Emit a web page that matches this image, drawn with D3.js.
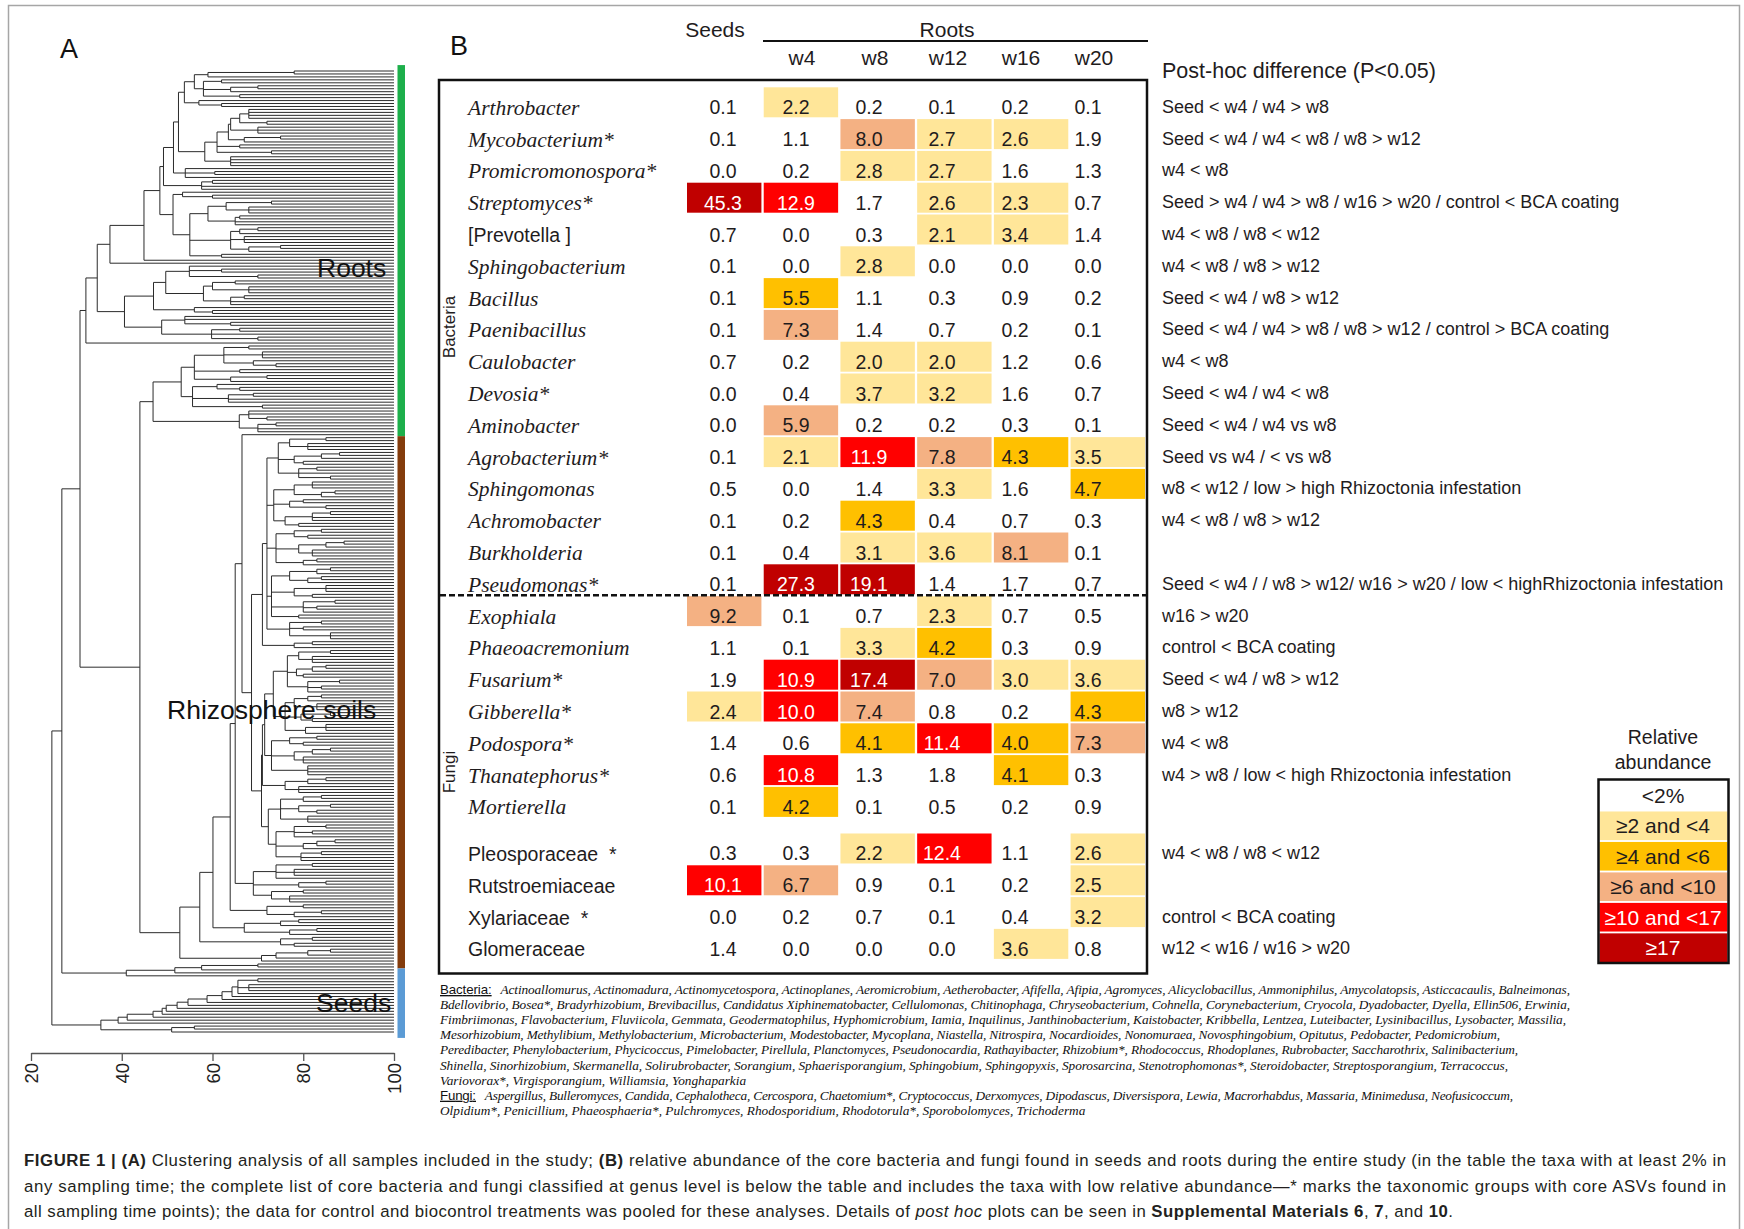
<!DOCTYPE html>
<html>
<head>
<meta charset="utf-8">
<script src="https://cdn.jsdelivr.net/npm/d3@7/dist/d3.min.js"></script>
<style>
html,body{margin:0;padding:0;background:#fff;}
svg{display:block;}
</style>
</head>
<body>
<svg id="fig" width="1744" height="1229" xmlns="http://www.w3.org/2000/svg"></svg>
<script>
// ======================= DATA =======================
const taxa = ["Arthrobacter","Mycobacterium*","Promicromonospora*","Streptomyces*","[Prevotella ]","Sphingobacterium","Bacillus","Paenibacillus","Caulobacter","Devosia*","Aminobacter","Agrobacterium*","Sphingomonas","Achromobacter","Burkholderia","Pseudomonas*","Exophiala","Phaeoacremonium","Fusarium*","Gibberella*","Podospora*","Thanatephorus*","Mortierella","Pleosporaceae  *","Rutstroemiaceae","Xylariaceae  *","Glomeraceae"];
const plainTaxa = ["[Prevotella ]","Pleosporaceae  *","Rutstroemiaceae","Xylariaceae  *","Glomeraceae"];
const familyTaxa = ["Pleosporaceae  *","Rutstroemiaceae","Xylariaceae  *","Glomeraceae"];
const kingdoms = ["Bacteria","Fungi"];
const lastBacterium = "Pseudomonas*";

const columns = ["Seeds","w4","w8","w12","w16","w20"];
const seedsValues = [0.1,0.1,0.0,45.3,0.7,0.1,0.1,0.1,0.7,0.0,0.0,0.1,0.5,0.1,0.1,0.1,9.2,1.1,1.9,2.4,1.4,0.6,0.1,0.3,10.1,0.0,1.4];
const w4Values    = [2.2,1.1,0.2,12.9,0.0,0.0,5.5,7.3,0.2,0.4,5.9,2.1,0.0,0.2,0.4,27.3,0.1,0.1,10.9,10.0,0.6,10.8,4.2,0.3,6.7,0.2,0.0];
const w8Values    = [0.2,8.0,2.8,1.7,0.3,2.8,1.1,1.4,2.0,3.7,0.2,11.9,1.4,4.3,3.1,19.1,0.7,3.3,17.4,7.4,4.1,1.3,0.1,2.2,0.9,0.7,0.0];
const w12Values   = [0.1,2.7,2.7,2.6,2.1,0.0,0.3,0.7,2.0,3.2,0.2,7.8,3.3,0.4,3.6,1.4,2.3,4.2,7.0,0.8,11.4,1.8,0.5,12.4,0.1,0.1,0.0];
const w16Values   = [0.2,2.6,1.6,2.3,3.4,0.0,0.9,0.2,1.2,1.6,0.3,4.3,1.6,0.7,8.1,1.7,0.7,0.3,3.0,0.2,4.0,4.1,0.2,1.1,0.2,0.4,3.6];
const w20Values   = [0.1,1.9,1.3,0.7,1.4,0.0,0.2,0.1,0.6,0.7,0.1,3.5,4.7,0.3,0.1,0.7,0.5,0.9,3.6,4.3,7.3,0.3,0.9,2.6,2.5,3.2,0.8];

const postHoc = [
 "Seed < w4 / w4 > w8",
 "Seed < w4 / w4 < w8 / w8 > w12",
 "w4 < w8",
 "Seed > w4 / w4 > w8 / w16 > w20 / control < BCA coating",
 "w4 < w8 / w8 < w12",
 "w4 < w8 / w8 > w12",
 "Seed < w4 / w8 > w12",
 "Seed < w4 / w4 > w8 / w8 > w12 / control > BCA coating",
 "w4 < w8",
 "Seed < w4 / w4 < w8",
 "Seed < w4 / w4 vs w8",
 "Seed vs w4 / < vs w8",
 "w8 < w12 / low > high Rhizoctonia infestation",
 "w4 < w8 / w8 > w12",
 "",
 "Seed < w4 / / w8 > w12/ w16 > w20 / low < highRhizoctonia infestation",
 "w16 > w20",
 "control < BCA coating",
 "Seed < w4 / w8 > w12",
 "w8 > w12",
 "w4 < w8",
 "w4 > w8 / low < high Rhizoctonia infestation",
 "",
 "w4 < w8 / w8 < w12",
 "",
 "control < BCA coating",
 "w12 < w16 / w16 > w20"
];

const abundanceBreaks  = [2,4,6,10,17];
const abundanceLabels  = ["<2%","\u22652 and <4","\u22654 and <6","\u22656 and <10","\u226510 and <17","\u226517"];
const abundanceColours = ["#FFFFFF","#FFE699","#FFC000","#F4B183","#FF0000","#C00000"];
const colourOverrides  = [{taxon:"Aminobacter", column:"w4", band:3}];

// dendrogram (similarity %, hand-read nested clusters; "x" = one sample)
const axisTicks = [20,40,60,80,100];
const G1 = "((x,x)78,x)59";
const G2 = "((x,x)62,((x,x)70,x)64,(x,x)66)58";
const G3 = "(x,(x,x)62)57";
const G4 = "((((((x,x,x,x)68,(x,x)72)66,(x,x,x)70)64,((x,x)75,x)67)63.5,(x,x)66,(x,x)73)61,(x,x,x,x)64)58.3";
const G5 = "(x,(x,x)60.5,x)54";
const G6 = "((x,x)60,x,x)57.6";
const U  = `(((((${G1},${G2})56,${G3})53.8,${G4})52.5,${G5})51.4,${G6})49.2`;
const L1 = "(x,(x,x)60)53.4";
const L2 = "((((x,x)73,(x,x,x)68)63,((x,x)66,x,x)65)59,(((x,x)70,x)66,(x,x,x)67,((x,x)75,x)68)64,(x,x)62)55";
const L  = `(${L1},${L2})51.3`;
const P1a = `(${U},${L})48.4`;
const P  = `((${P1a},x)44.9,x)37.4`;
const Qa1 = "((x,(x,x)62,(x,x)70)54.9,(((x,x)65,(x,x,x)68)60,((x,x)67,x,x)64)58)49.7";
const Qa = `(${Qa1},(x,(x,x)60)56)47`;
const Qb = "((x,x,(x,x)64)53.9,((x,x)66,x,(x,x)70)59.8)48.8";
const Q  = `(${Qa},${Qb})40.6`;
const roots1 = `((${P},${Q})34.6,x)32.1`;
const R2aTop = "(((x,x)68,(x,x,x)71,(x,(x,x)74)69)62.5,(x,x)66,((x,x)72,x)64)56";
const R2aBot = "((x,(x,x)66)61,((x,x)69,x,x)63.5,(x,x)71)55.6";
const R2b = "((x,x,(x,x)72)68,((x,x)74,x,x)70)65.9";
const roots2 = `((${R2aTop},${R2aBot})53.1,${R2b})46.9`;
const T1a = "(((x,x)85,(x,x,x)81)77,(((x,x)88,x)84,(x,x)80)78,((x,x)83,x,(x,x)86)79)74.5";
const T1b = "(((x,x,x)82,((x,x)87,x)84)78,((x,x)80,(x,x)85)77,(((x,x)86,x,x)82,(x,x)79)76)73.5";
const T1c = "(((x,x)84,(x,x)81)78,(((x,x)89,x)85,(x,x,x)82)79,((x,x)83,x)80)74";
const T1d = "((((x,x)86,x)83,((x,x)84,x)81)77,((x,x,x)85,(x,x)82)78,((x,x)87,(x,x)83,x)80,(x,x)79)73";
const T1e = "((x,x)84,(x,x)80,(x,x,x)86)77";
const T1 = `((${T1a},${T1b},${T1c},${T1d},${T1e})72,((x,x)82,x)78)71`;
const T2a = "(((x,x)86,(x,x,x)82)79,(((x,x)85,x)82,(x,x)80)78.5,((x,x)88,(x,x)84,x)81)76.5";
const T2b = "((((x,x)84,x)81,(x,x,x)83)78,((x,x)86,(x,x)82)79.5,((x,x,x)85,x)80.5)76";
const T2d = "(((x,x)83,(x,x)80)77,(((x,x)86,x)82,(x,x,x)80)78,(x,x,x,x)81)73";
const T2e = "(((x,x)85,x)81,(x,x,x)79)76";
const T2c = "((((x,x)84,x)80,((x,x)86,(x,x)83)79,(x,x,x)81)75,(((x,x)85,(x,x)82,x)78,(((x,x)87,x)83,x)80,((x,x)84,x,x)79.5)74)72.3";
const T2 = `((((${T2a},${T2b})73.4,${T2d})71.5,${T2e})71,${T2c})70.8`;
const B5 = "(((x,x)82,(x,x,x)78,x)74,((x,x)85,x)79,((x,x)80,(x,x,x)77)73)69";
const B4 = "((x,x)80,((x,x)84,x)78)72";
const B3 = "(((x,x)79,x)75,((x,x)83,x)77)67";
const B2 = "((x,x)82,(x,x)78)75";
const B1 = "((((x,x)86,x)81,x)74,x)70.8";
const rhizo = `((((((x,(${T1},${T2})68.6)66.5,${B5})65,${B4})63.9,${B3})60.1,${B2})57.2,${B1})52.8`;
const S1 = "((((x,x)70,x)57.6,x)51.7,x)41";
const seedChain = "((((((((((((x,x)70,(x,x,x)68,x)65.6,x)64.3,x)62.1,x)58.8,x)54.6,x)52.2,x)49.8,x)48.9,x)46.9,x)41.2,x)39.2";
const seedsClade = `(${seedChain},((x,x)56,x)51)35.4`;
const treeNewick = `(((${roots1},(${roots2},${rhizo})44)30.8,${S1})26.8,${seedsClade})24.6`;
const sampleGroups = [
  {name:"Roots", count:124, colour:"#1DAF4B"},
  {name:"Rhizosphere soils", count:180, colour:"#843C0C"},
  {name:"Seeds", count:22, colour:"#5B9BD5"}
];

const footBacteria = [
 "Actinoallomurus, Actinomadura, Actinomycetospora, Actinoplanes, Aeromicrobium, Aetherobacter, Afifella, Afipia, Agromyces, Alicyclobacillus, Ammoniphilus, Amycolatopsis, Asticcacaulis, Balneimonas,",
 "Bdellovibrio, Bosea*, Bradyrhizobium, Brevibacillus, Candidatus Xiphinematobacter, Cellulomonas, Chitinophaga, Chryseobacterium, Cohnella, Corynebacterium, Cryocola, Dyadobacter, Dyella, Ellin506, Erwinia,",
 "Fimbriimonas, Flavobacterium, Fluviicola, Gemmata, Geodermatophilus, Hyphomicrobium, Iamia, Inquilinus, Janthinobacterium, Kaistobacter, Kribbella, Lentzea, Luteibacter, Lysinibacillus, Lysobacter, Massilia,",
 "Mesorhizobium, Methylibium, Methylobacterium, Microbacterium, Modestobacter, Mycoplana, Niastella, Nitrospira, Nocardioides, Nonomuraea, Novosphingobium, Opitutus, Pedobacter, Pedomicrobium,",
 "Peredibacter, Phenylobacterium, Phycicoccus, Pimelobacter, Pirellula, Planctomyces, Pseudonocardia, Rathayibacter, Rhizobium*, Rhodococcus, Rhodoplanes, Rubrobacter, Saccharothrix, Salinibacterium,",
 "Shinella, Sinorhizobium, Skermanella, Solirubrobacter, Sorangium, Sphaerisporangium, Sphingobium, Sphingopyxis, Sporosarcina, Stenotrophomonas*, Steroidobacter, Streptosporangium, Terracoccus,",
 "Variovorax*, Virgisporangium, Williamsia, Yonghaparkia"
];
const footFungi = [
 "Aspergillus, Bulleromyces, Candida, Cephalotheca, Cercospora, Chaetomium*, Cryptococcus, Derxomyces, Dipodascus, Diversispora, Lewia, Macrorhabdus, Massaria, Minimedusa, Neofusicoccum,",
 "Olpidium*, Penicillium, Phaeosphaeria*, Pulchromyces, Rhodosporidium, Rhodotorula*, Sporobolomyces, Trichoderma"
];
const captionLines = [
 [["FIGURE 1 | ","b"],["(A)","b"],[" Clustering analysis of all samples included in the study; ",""],["(B)","b"],[" relative abundance of the core bacteria and fungi found in seeds and roots during the entire study (in the table the taxa with at least 2% in",""]],
 [["any sampling time; the complete list of core bacteria and fungi classified at genus level is below the table and includes the taxa with low relative abundance\u2014* marks the taxonomic groups with core ASVs found in",""]],
 [["all sampling time points); the data for control and biocontrol treatments was pooled for these analyses. Details of ",""],["post hoc","i"],[" plots can be seen in ",""],["Supplemental Materials 6","b"],[", ",""],["7","b"],[", and ",""],["10","b"],[".",""]]
];

// ======================= DRAW =======================
const SANS = "'Liberation Sans', Arial, sans-serif";
const SERIF = "'Liberation Serif', 'Times New Roman', serif";
const INK = "#1f1c1d";
const svg = d3.select("#fig").attr("font-family", SANS);
svg.append("rect").attr("width",1744).attr("height",1229).attr("fill","#fff");
svg.append("rect").attr("x",8.5).attr("y",5.5).attr("width",1731).attr("height",1300)
   .attr("fill","none").attr("stroke","#a6a6a6").attr("stroke-width",1.5);

// ---------- Panel A : dendrogram ----------
function parseTree(str){
  const s = str.replace(/\s+/g,"");
  let i = 0;
  function node(){
    if (s[i] === "("){
      i++;
      const children = [];
      for(;;){
        children.push(node());
        if (s[i] === ","){ i++; continue; }
        i++; break;
      }
      let num = "";
      while (i < s.length && /[0-9.]/.test(s[i])) num += s[i++];
      return {h:+num, children};
    }
    i++;
    return {h:100};
  }
  return node();
}
const root = d3.hierarchy(parseTree(treeNewick));
const leaves = root.leaves();
leaves.forEach((d,i)=> d.leafIndex = i);
const yLeaf = d3.scalePoint().domain(d3.range(leaves.length)).range([71, 1032]);
const xSim = d3.scaleLinear().domain([20,100]).range([31,394]);
root.eachAfter(d=>{
  d.px = xSim(d.data.h);
  if (d.children){
    d.py = (d.children[0].py + d.children[d.children.length-1].py)/2;
  } else d.py = yLeaf(d.leafIndex);
});
const tp = d3.path();
root.each(d=>{
  if (!d.children) return;
  const k = d.children;
  tp.moveTo(d.px, k[0].py); tp.lineTo(d.px, k[k.length-1].py);
  k.forEach(c=>{ tp.moveTo(d.px, c.py); tp.lineTo(c.px, c.py); });
});
svg.append("path").attr("d", tp.toString()).attr("fill","none")
   .attr("stroke","#2b2b2b").attr("stroke-width",1);

// sample-type colour bar
const step = yLeaf.step();
let startIdx = 0;
sampleGroups.forEach((g,gi)=>{
  const endIdx = startIdx + g.count - 1;
  const top = gi===0 ? yLeaf(startIdx) - 2*step : yLeaf(startIdx) - step/2;
  const bot = gi===sampleGroups.length-1 ? yLeaf(endIdx) + 2*step : yLeaf(endIdx) + step/2;
  svg.append("rect").attr("x",397.5).attr("y",top).attr("width",7.5).attr("height",bot-top).attr("fill",g.colour);
  startIdx = endIdx + 1;
});
// group labels
const groupLabelPos = {"Roots":[317,277],"Rhizosphere soils":[167,719],"Seeds":[316,1012]};
sampleGroups.forEach(g=>{
  svg.append("text").attr("x",groupLabelPos[g.name][0]).attr("y",groupLabelPos[g.name][1])
     .attr("font-size",26.5).attr("fill","#111").text(g.name);
});
// axis
const axis = d3.axisBottom(xSim).tickValues(axisTicks).tickSize(8).tickSizeOuter(0).tickFormat(d3.format("d"));
const gAx = svg.append("g").attr("transform","translate(0,1053)").call(axis);
gAx.attr("font-family",SANS);
gAx.select(".domain").attr("stroke","#555").attr("stroke-width",1.3);
gAx.selectAll(".tick line").attr("stroke","#555").attr("stroke-width",1.3);
gAx.selectAll(".tick text").attr("transform","rotate(-90)").attr("text-anchor","end")
   .attr("x",-10).attr("y",0).attr("dy","0.36em").attr("font-size",18.5).attr("fill","#222");

svg.append("text").attr("x",60).attr("y",58).attr("font-size",27).attr("fill","#111").text("A");

// ---------- Panel B : table ----------
svg.append("text").attr("x",450).attr("y",55).attr("font-size",27).attr("fill","#111").text("B");

const valuesByColumn = {Seeds:seedsValues, w4:w4Values, w8:w8Values, w12:w12Values, w16:w16Values, w20:w20Values};
const xCell = d3.scaleBand().domain(columns).range([687,1145]).paddingInner(0.03);
const xText = d3.scalePoint().domain(columns).range([723,1088]);
const firstFamily = taxa.indexOf(familyTaxa[0]);
const slot = i => i + (i >= firstFamily ? 0.465 : 0);
const yRow = d3.scaleLinear().domain([0,1]).range([102.3, 134.1]);
const cellH = 30;

// headers
svg.append("text").attr("x",xText("Seeds")-8).attr("y",37).attr("text-anchor","middle").attr("font-size",21).attr("fill",INK).text("Seeds");
const rootCols = columns.slice(1);
svg.append("text").attr("x",(xText("w4")+xText("w20"))/2+5).attr("y",37).attr("text-anchor","middle").attr("font-size",21).attr("fill",INK).text("Roots");
svg.append("line").attr("x1",763).attr("x2",1148).attr("y1",41).attr("y2",41).attr("stroke","#111").attr("stroke-width",1.8);
svg.selectAll("text.colhead").data(rootCols).join("text").attr("class","colhead")
   .attr("x",d=>xText(d)+6).attr("y",65).attr("text-anchor","middle").attr("font-size",21).attr("fill",INK).text(d=>d);

// cells
const cells = [];
taxa.forEach((t,i)=>{
  columns.forEach(c=>{
    const v = valuesByColumn[c][i];
    let band = d3.bisectRight(abundanceBreaks, v);
    const ov = colourOverrides.find(o=>o.taxon===t && o.column===c);
    if (ov) band = ov.band;
    cells.push({taxon:t, row:i, col:c, v, band});
  });
});
svg.append("g").selectAll("rect").data(cells.filter(d=>d.band>0)).join("rect")
   .attr("x",d=>xCell(d.col)).attr("width",xCell.bandwidth())
   .attr("y",d=>yRow(slot(d.row))-cellH/2).attr("height",cellH)
   .attr("fill",d=>abundanceColours[d.band]);
svg.append("g").selectAll("text").data(cells).join("text")
   .attr("x",d=>xText(d.col)).attr("y",d=>yRow(slot(d.row))+12)
   .attr("text-anchor","middle").attr("font-size",19.5)
   .attr("fill",d=>d.band>=4 ? "#fff" : INK)
   .text(d=>d3.format(".1f")(d.v));

// row labels
svg.append("g").selectAll("text").data(taxa).join("text")
   .attr("x",468).attr("y",(d,i)=>yRow(slot(i))+12.5)
   .attr("xml:space","preserve").style("white-space","pre")
   .attr("font-family",d=>plainTaxa.includes(d)?SANS:SERIF)
   .attr("font-style",d=>plainTaxa.includes(d)?"normal":"italic")
   .attr("font-size",d=>plainTaxa.includes(d)?19.5:21.5)
   .attr("fill",INK).text(d=>d);

// frame & separator
const frameTop = 80, frameBot = 973.5;
svg.append("rect").attr("x",439).attr("y",frameTop).attr("width",708).attr("height",frameBot-frameTop)
   .attr("fill","none").attr("stroke","#111").attr("stroke-width",2.5);
const lb = taxa.indexOf(lastBacterium);
const sepY = (yRow(slot(lb)) + yRow(slot(lb+1)))/2;
svg.append("line").attr("x1",440).attr("x2",1146).attr("y1",sepY).attr("y2",sepY)
   .attr("stroke","#111").attr("stroke-width",2.4).attr("stroke-dasharray","6,3");

// kingdom labels (rotated)
const kingdomY = {"Bacteria":327,"Fungi":772};
kingdoms.forEach(k=>{
  svg.append("text").attr("transform",`translate(455,${kingdomY[k]}) rotate(-90)`)
     .attr("text-anchor","middle").attr("font-size",17).attr("fill",INK).text(k);
});

// post-hoc column
svg.append("text").attr("x",1162).attr("y",78).attr("font-size",21.5).attr("fill",INK).text("Post-hoc difference (P<0.05)");
svg.append("g").selectAll("text").data(postHoc).join("text")
   .attr("x",1162).attr("y",(d,i)=>yRow(slot(i))+10.5)
   .attr("font-size",18).attr("fill",INK).text(d=>d);

// legend
svg.append("text").attr("x",1663).attr("y",744).attr("text-anchor","middle").attr("font-size",19.5).attr("fill",INK).text("Relative");
svg.append("text").attr("x",1663).attr("y",769).attr("text-anchor","middle").attr("font-size",19.5).attr("fill",INK).text("abundance");
const yLeg = d3.scaleBand().domain(d3.range(abundanceLabels.length)).range([781,962]).paddingInner(0.06);
svg.append("g").selectAll("rect").data(abundanceLabels).join("rect")
   .attr("x",1599.5).attr("width",128).attr("y",(d,i)=>yLeg(i)).attr("height",yLeg.bandwidth())
   .attr("fill",(d,i)=>abundanceColours[i]);
svg.append("g").selectAll("text").data(abundanceLabels).join("text")
   .attr("x",1663).attr("y",(d,i)=>yLeg(i)+yLeg.bandwidth()/2+7.5).attr("text-anchor","middle")
   .attr("font-size",21).attr("fill",(d,i)=>i>=4?"#fff":INK).text(d=>d);
svg.append("rect").attr("x",1598.5).attr("y",779.5).attr("width",130).attr("height",183.5)
   .attr("fill","none").attr("stroke","#111").attr("stroke-width",2.5);

// footnote list
const footEnds = [1570,1570,1566,1500,1518,1508,null,1513,null];
const footAll = [
  ...footBacteria.map((t,i)=>({label:i===0?"Bacteria:":null, text:t})),
  ...footFungi.map((t,i)=>({label:i===0?"Fungi:":null, text:t}))
];
footAll.forEach((f,i)=>{
  const y = 994 + i*15.1;
  const tx = svg.append("text").attr("x",440).attr("y",y).attr("font-size",13.3).attr("fill","#111");
  if (f.label){
    tx.append("tspan").attr("font-family",SANS).attr("text-decoration","underline").text(f.label);
    tx.append("tspan").attr("dx",9).attr("font-family",SERIF).attr("font-style","italic").text(f.text);
  } else {
    tx.append("tspan").attr("font-family",SERIF).attr("font-style","italic").text(f.text);
  }
  if (footEnds[i]) tx.attr("textLength",footEnds[i]-440).attr("lengthAdjust","spacing");
});

// caption
const capEnds = [1726,1726,1453];
captionLines.forEach((segs,i)=>{
  const tx = svg.append("text").attr("x",24).attr("y",1166+i*25.5).attr("font-size",16.8).attr("fill","#231f20")
     .attr("xml:space","preserve").style("white-space","pre");
  segs.forEach(s=>{
    tx.append("tspan").attr("font-weight",s[1]==="b"?"bold":"normal")
      .attr("font-style",s[1]==="i"?"italic":"normal").text(s[0]);
  });
  tx.attr("textLength",capEnds[i]-24).attr("lengthAdjust","spacing");
});
</script>
</body>
</html>
